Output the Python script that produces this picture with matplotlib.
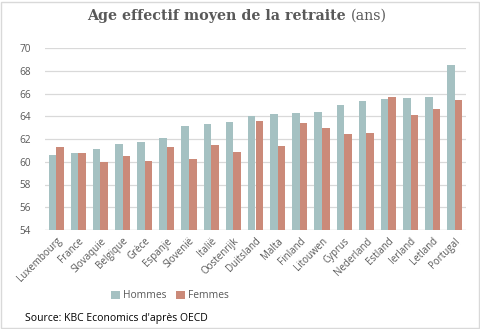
import matplotlib
matplotlib.use("Agg")
import matplotlib.pyplot as plt
import numpy as np
from matplotlib.patches import Rectangle

countries = ["Luxembourg", "France", "Slovaquie", "Belgique", "Grèce", "Espanje",
             "Slovenië", "Italië", "Oostenrijk", "Duitsland", "Malta", "Finland",
             "Litouwen", "Cyprus", "Nederland", "Estland", "Ierland", "Letland", "Portugal"]
hommes = [60.6, 60.8, 61.1, 61.6, 61.7, 62.1, 63.1, 63.3, 63.5, 64.0, 64.2, 64.3,
          64.4, 65.0, 65.3, 65.5, 65.6, 65.7, 68.5]
femmes = [61.3, 60.8, 60.0, 60.5, 60.1, 61.3, 60.2, 61.5, 60.9, 63.6, 61.4, 63.4,
          63.0, 62.4, 62.5, 65.7, 64.1, 64.6, 65.4]
yticks = [54, 56, 58, 60, 62, 64, 66, 68, 70]

c_h = "#a5c1c2"
c_f = "#cb8a79"
txt = "#595959"

fig = plt.figure(figsize=(4.81, 3.29), dpi=100)
W, H = 481, 329
ax = fig.add_axes([45 / W, 1 - 230 / H, (466 - 45) / W, (230 - 48) / H])

x = np.arange(len(countries))
bw = 0.34
ax.bar(x - bw / 2, [h - 54 for h in hommes], bw, bottom=54, color=c_h, label="Hommes", zorder=3)
ax.bar(x + bw / 2, [f - 54 for f in femmes], bw, bottom=54, color=c_f, label="Femmes", zorder=3)

ax.set_ylim(54, 70)
ax.set_xlim(-0.5, len(countries) - 0.5)
ax.set_yticks(yticks)
ax.set_yticklabels([str(t) for t in yticks], fontsize=7.2, color=txt, family="Open Sans")
ax.set_xticks(x)
ax.set_xticklabels(countries, rotation=45, ha="right", rotation_mode="anchor",
                   fontsize=7, color=txt, family="Open Sans")
ax.tick_params(axis="both", length=0, pad=4)
ax.tick_params(axis="y", pad=10)
ax.grid(axis="y", color="#d9d9d9", linewidth=0.9, zorder=0)
for s in ax.spines.values():
    s.set_visible(False)
ax.axhline(54, color="#d9d9d9", linewidth=0.9, zorder=1)

fig.text(346 / W, 1 - 16 / H, "Age effectif moyen de la retraite", ha="right", va="center",
         fontsize=10.3, color=txt, family="DejaVu Serif", fontweight="bold")
fig.text(351 / W, 1 - 16 / H, "(ans)", ha="left", va="center",
         fontsize=10.3, color=txt, family="DejaVu Serif")

leg = fig.legend(loc="center", bbox_to_anchor=(170 / W, 1 - 296 / H), ncol=2, frameon=False,
                 handlelength=0.8, handleheight=0.8, handletextpad=0.3,
                 columnspacing=1.0, prop={"family": "Open Sans", "size": 7.4})
for t in leg.get_texts():
    t.set_color(txt)

fig.text(25 / W, 1 - 318 / H, "Source: KBC Economics d'après OECD", ha="left", va="center",
         fontsize=7.5, color="black", family="Open Sans")

fig.patches.append(Rectangle((1 / W, 1 / H), 478 / W, 326 / H, transform=fig.transFigure,
                             fill=False, edgecolor="#d9d9d9", linewidth=1))

fig.savefig("out.png", dpi=100)
